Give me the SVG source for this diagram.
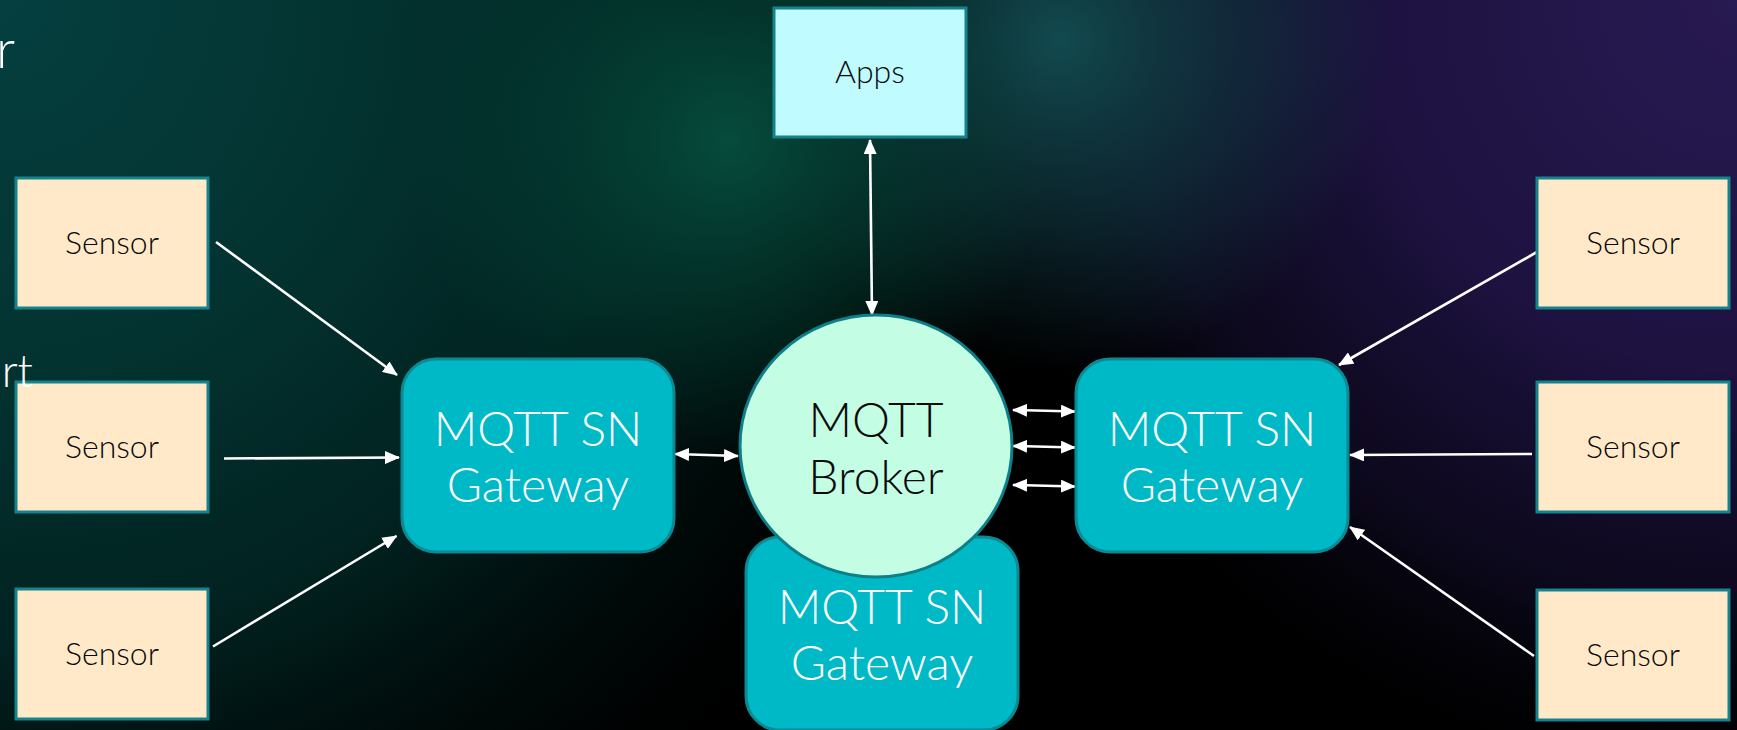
<svg xmlns="http://www.w3.org/2000/svg" width="1737" height="730" viewBox="0 0 1737 730">
  <defs>
    <!-- backdrop washes -->
    <radialGradient id="bgTeal" gradientUnits="userSpaceOnUse" cx="0" cy="0" r="1050">
      <stop offset="0" stop-color="#053f40"/>
      <stop offset="0.35" stop-color="#033330"/>
      <stop offset="0.62" stop-color="#012220"/>
      <stop offset="0.85" stop-color="#000c0b" stop-opacity="0.6"/>
      <stop offset="1" stop-color="#000000" stop-opacity="0"/>
    </radialGradient>
    <radialGradient id="bgGreen" gradientUnits="userSpaceOnUse" cx="730" cy="140" r="320">
      <stop offset="0" stop-color="#064c3d"/>
      <stop offset="0.5" stop-color="#044336" stop-opacity="0.55"/>
      <stop offset="1" stop-color="#044336" stop-opacity="0"/>
    </radialGradient>
    <radialGradient id="bgSlate" gradientUnits="userSpaceOnUse" cx="1060" cy="40" r="330">
      <stop offset="0" stop-color="#124a4f"/>
      <stop offset="0.55" stop-color="#103d45" stop-opacity="0.55"/>
      <stop offset="1" stop-color="#103d45" stop-opacity="0"/>
    </radialGradient>
    <radialGradient id="bgViolet" gradientUnits="userSpaceOnUse" cx="1737" cy="0" r="820">
      <stop offset="0" stop-color="#281a52"/>
      <stop offset="0.45" stop-color="#1d1240"/>
      <stop offset="0.75" stop-color="#0f0a22" stop-opacity="0.8"/>
      <stop offset="1" stop-color="#000000" stop-opacity="0"/>
    </radialGradient>

    <marker id="head" viewBox="0 0 15 13" refX="14" refY="6.5" markerUnits="userSpaceOnUse"
            markerWidth="15" markerHeight="13" orient="auto-start-reverse">
      <path d="M0,0 L15,6.5 L0,13 Z" fill="#ffffff"/>
    </marker>

    <style>
      .sensor rect { fill: #ffe9c9; stroke: #14838c; stroke-width: 3; }
      .apps rect { fill: #c0fbff; stroke: #14838c; stroke-width: 3; }
      .gw rect { fill: #00b9c6; stroke: #0c8a93; stroke-width: 3; }
      .broker ellipse { fill: #c3fde3; stroke: #0c8088; stroke-width: 3; }
      .lbl { font-family: Lato, "Liberation Sans", sans-serif; font-weight: 300; font-size: 32px; fill: #0a0a0a; text-anchor: middle; }
      .big { font-family: Lato, "Liberation Sans", sans-serif; font-weight: 300; font-size: 48px; text-anchor: middle; }
      .white { fill: #ffffff; }
      .dark { fill: #0a0a0a; }
      .frag { font-family: Lato, "Liberation Sans", sans-serif; font-weight: 300; fill: #ffffff; }
      #connectors line { stroke: #ffffff; stroke-width: 2.6; fill: none; }
    </style>
  </defs>

  <!-- background -->
  <rect x="0" y="0" width="1737" height="730" fill="#000000"/>
  <rect x="0" y="0" width="1737" height="730" fill="url(#bgTeal)"/>
  <rect x="0" y="0" width="1737" height="730" fill="url(#bgViolet)"/>
  <rect x="0" y="0" width="1737" height="730" fill="url(#bgSlate)"/>
  <rect x="0" y="0" width="1737" height="730" fill="url(#bgGreen)"/>

  <!-- connectors -->
  <g id="connectors">
    <line x1="216" y1="242" x2="397" y2="375" marker-end="url(#head)"/>
    <line x1="224" y1="458.5" x2="399" y2="457.5" marker-end="url(#head)"/>
    <line x1="213" y1="646.5" x2="396.5" y2="536" marker-end="url(#head)"/>

    <line x1="675" y1="454" x2="738" y2="456" marker-start="url(#head)" marker-end="url(#head)"/>
    <line x1="870" y1="140" x2="872" y2="315" marker-start="url(#head)" marker-end="url(#head)"/>

    <line x1="1013" y1="410" x2="1075" y2="411.5" marker-start="url(#head)" marker-end="url(#head)"/>
    <line x1="1013" y1="446" x2="1075" y2="447.5" marker-start="url(#head)" marker-end="url(#head)"/>
    <line x1="1013" y1="485" x2="1075" y2="486.5" marker-start="url(#head)" marker-end="url(#head)"/>

    <line x1="1537" y1="252" x2="1339" y2="365" marker-end="url(#head)"/>
    <line x1="1532" y1="454" x2="1350" y2="455" marker-end="url(#head)"/>
    <line x1="1534" y1="656" x2="1350" y2="527" marker-end="url(#head)"/>
  </g>

  <!-- sensors, left -->
  <g id="sensor-l1" class="sensor">
    <rect x="16" y="178" width="192" height="130"/>
    <text class="lbl" x="112" y="254">Sensor</text>
  </g>
  <g id="sensor-l2" class="sensor">
    <rect x="16" y="382" width="192" height="130"/>
    <text class="lbl" x="112" y="458">Sensor</text>
  </g>
  <g id="sensor-l3" class="sensor">
    <rect x="16" y="589" width="192" height="130"/>
    <text class="lbl" x="112" y="665">Sensor</text>
  </g>

  <!-- sensors, right -->
  <g id="sensor-r1" class="sensor">
    <rect x="1537" y="178" width="192" height="130"/>
    <text class="lbl" x="1633" y="254">Sensor</text>
  </g>
  <g id="sensor-r2" class="sensor">
    <rect x="1537" y="382" width="192" height="130"/>
    <text class="lbl" x="1633" y="458">Sensor</text>
  </g>
  <g id="sensor-r3" class="sensor">
    <rect x="1537" y="590" width="192" height="130"/>
    <text class="lbl" x="1633" y="666">Sensor</text>
  </g>

  <!-- apps -->
  <g id="apps" class="apps">
    <rect x="774" y="8" width="192" height="129"/>
    <text class="lbl" x="870" y="83">Apps</text>
  </g>

  <!-- gateways -->
  <g id="gateway-left" class="gw">
    <rect x="402" y="359" width="272" height="193" rx="34" ry="34"/>
    <text class="big white" x="538" y="446">MQTT SN</text>
    <text class="big white" x="538" y="502">Gateway</text>
  </g>
  <g id="gateway-right" class="gw">
    <rect x="1076" y="359" width="272" height="193" rx="34" ry="34"/>
    <text class="big white" x="1212" y="446">MQTT SN</text>
    <text class="big white" x="1212" y="502">Gateway</text>
  </g>
  <g id="gateway-bottom" class="gw">
    <rect x="746" y="537" width="272" height="193" rx="34" ry="34"/>
    <text class="big white" x="882" y="624">MQTT SN</text>
    <text class="big white" x="882" y="680">Gateway</text>
  </g>

  <!-- broker -->
  <g id="broker" class="broker">
    <ellipse cx="876" cy="446" rx="136" ry="131"/>
    <text class="big dark" x="876" y="437">MQTT</text>
    <text class="big dark" x="876" y="494">Broker</text>
  </g>

  <!-- clipped words at the left edge -->
  <text class="frag" x="15" y="68" font-size="54" text-anchor="end">r</text>
  <text class="frag" x="33" y="387" font-size="45" text-anchor="end">rt</text>
</svg>
